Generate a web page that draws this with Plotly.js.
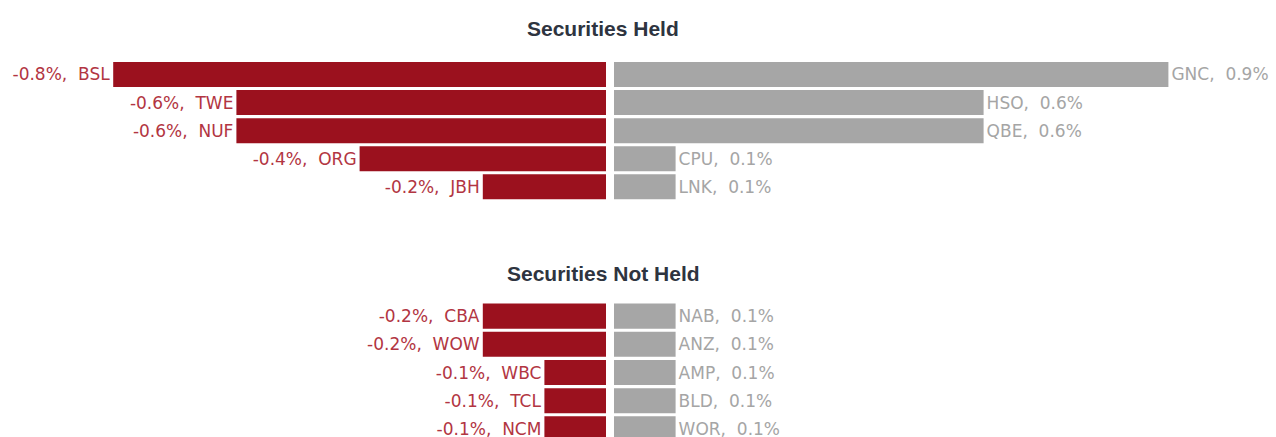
<!DOCTYPE html>
<html>
<head>
<meta charset="utf-8">
<script src="https://cdn.plot.ly/plotly-3.0.1.min.js"></script>
<style>html,body{margin:0;padding:0;background:#fff;}#chart{width:1276px;height:437px;}</style>
</head>
<body>
<div id="chart"></div>
<script>
// ---- data ----
const heldNegTickers = ["BSL", "TWE", "NUF", "ORG", "JBH"];
const heldNegValues  = [-0.8, -0.6, -0.6, -0.4, -0.2];
const heldPosTickers = ["GNC", "HSO", "QBE", "CPU", "LNK"];
const heldPosValues  = [0.9, 0.6, 0.6, 0.1, 0.1];

const notHeldNegTickers = ["CBA", "WOW", "WBC", "TCL", "NCM"];
const notHeldNegValues  = [-0.2, -0.2, -0.1, -0.1, -0.1];
const notHeldPosTickers = ["NAB", "ANZ", "AMP", "BLD", "WOR"];
const notHeldPosValues  = [0.1, 0.1, 0.1, 0.1, 0.1];

const rowRank = [1, 2, 3, 4, 5];
const sectionTitles = ["Securities Held", "Securities Not Held"];

// ---- styles ----
const RED = "#9b111e", RED_TXT = "#b23542";
const GREY = "#a6a6a6", GREY_TXT = "#a5a5a5";
const labelFont = {family: "DejaVu Sans", size: 17};

function negText(tk, vals) { return vals.map((v, i) => v.toFixed(1) + "%,  " + tk[i]); }
function posText(tk, vals) { return vals.map((v, i) => tk[i] + ",  " + v.toFixed(1) + "%"); }

function bar(vals, text, color, txtColor, xa, ya) {
  return {
    type: "bar", orientation: "h", x: vals, y: rowRank,
    xaxis: xa, yaxis: ya,
    marker: {color: color, line: {width: 0}},
    text: text, textposition: "outside", constraintext: "none", cliponaxis: false,
    textfont: Object.assign({color: txtColor}, labelFont),
    hoverinfo: "none", showlegend: false
  };
}

const data = [
  bar(heldNegValues, negText(heldNegTickers, heldNegValues), RED, RED_TXT, "x", "y"),
  bar(heldPosValues, posText(heldPosTickers, heldPosValues), GREY, GREY_TXT, "x2", "y"),
  bar(notHeldNegValues, negText(notHeldNegTickers, notHeldNegValues), RED, RED_TXT, "x3", "y2"),
  bar(notHeldPosValues, posText(notHeldPosTickers, notHeldPosValues), GREY, GREY_TXT, "x4", "y2")
];

const W = 1276;
const leftDom = [0, 606 / W], rightDom = [614 / W, 1];
const pxPerPct = 616;
const leftRange = [-606 / pxPerPct, 0], rightRange = [0, 662 / pxPerPct];
const hid = {showgrid: false, zeroline: false, showticklabels: false, ticks: "", showline: false, fixedrange: true};

const layout = {
  width: 1276, height: 437,
  margin: {l: 0, r: 0, t: 0, b: 0},
  paper_bgcolor: "#fff", plot_bgcolor: "rgba(0,0,0,0)",
  bargap: 0.11,
  xaxis:  Object.assign({domain: leftDom,  range: leftRange,  anchor: "y"}, hid),
  xaxis2: Object.assign({domain: rightDom, range: rightRange, anchor: "y"}, hid),
  xaxis3: Object.assign({domain: leftDom,  range: leftRange,  anchor: "y2"}, hid),
  xaxis4: Object.assign({domain: rightDom, range: rightRange, anchor: "y2"}, hid),
  yaxis:  Object.assign({domain: [1 - 200.9 / 437, 1 - 60.4 / 437], range: [5.5, 0.5], anchor: "x"}, hid),
  yaxis2: Object.assign({domain: [0, 1 - 302 / 437], range: [0.5 + 135 / 28.2, 0.5], anchor: "x3"}, hid),
  annotations: [
    {text: "<b>" + sectionTitles[0] + "</b>", xref: "paper", yref: "paper", x: 603 / W, y: 1 - 28 / 437,
     xanchor: "center", yanchor: "middle", showarrow: false,
     font: {family: "Liberation Sans", size: 21, color: "#2e3440"}},
    {text: "<b>" + sectionTitles[1] + "</b>", xref: "paper", yref: "paper", x: 603 / W, y: 1 - 273 / 437,
     xanchor: "center", yanchor: "middle", showarrow: false,
     font: {family: "Liberation Sans", size: 21, color: "#2e3440"}}
  ]
};

Plotly.newPlot("chart", data, layout, {displayModeBar: false, staticPlot: true});
</script>
</body>
</html>
